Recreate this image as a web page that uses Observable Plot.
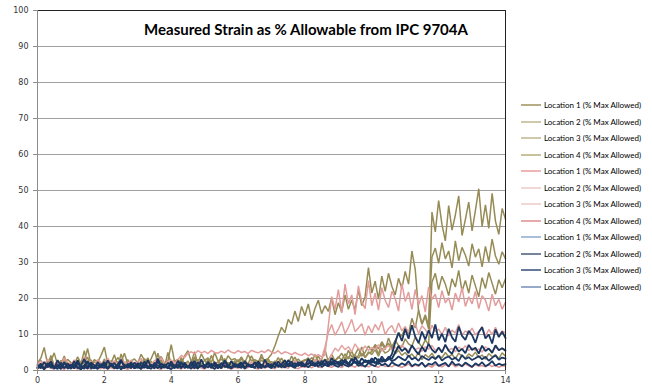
<!DOCTYPE html>
<html>
<head>
<meta charset="utf-8">
<script src="https://cdn.jsdelivr.net/npm/d3@7"></script>
<script src="https://cdn.jsdelivr.net/npm/@observablehq/plot@0.6"></script>
<style>
  html, body { margin: 0; padding: 0; background: #fff; }
  #wrap { position: relative; width: 652px; height: 387px; overflow: hidden; }
  #title { position: absolute; left: 0; width: 612px; top: 20px; text-align: center;
           font-family: Lato, "Open Sans", sans-serif; font-weight: bold; font-size: 15px; color: #000; white-space: nowrap; }
  #legend { position: absolute; left: 521px; top: 97px; font-family: Lato, "Open Sans", sans-serif; font-size: 8px; color: #000; }
  .row { position: relative; height: 16.5px; white-space: nowrap; }
  .sw { position: absolute; left: 0; top: 7px; width: 20px; height: 2px; }
  .lab { position: absolute; left: 23px; top: 2px; line-height: 12px; }
</style>
</head>
<body>
<div id="wrap">
  <div id="chart"></div>
  <div id="title"></div>
  <div id="legend"></div>
</div>
<script>
const titleText = "Measured Strain as % Allowable from IPC 9704A";
const xStep = 0.1;           // sample spacing along the x axis
const xTicks = [0, 2, 4, 6, 8, 10, 12, 14];
const yTicks = [0, 10, 20, 30, 40, 50, 60, 70, 80, 90, 100];
const seriesLabels = [
  "Location 1 (% Max Allowed)", "Location 2 (% Max Allowed)", "Location 3 (% Max Allowed)", "Location 4 (% Max Allowed)",
  "Location 1 (% Max Allowed)", "Location 2 (% Max Allowed)", "Location 3 (% Max Allowed)", "Location 4 (% Max Allowed)",
  "Location 1 (% Max Allowed)", "Location 2 (% Max Allowed)", "Location 3 (% Max Allowed)", "Location 4 (% Max Allowed)"
];

// Olive group
const olive1 = [
2.1,3.4,6.4,1.8,2.6,4.9,1.5,2.8,1.9,3.1,
2.2,1.6,3.8,2.0,2.5,6.1,1.7,3.0,2.3,4.2,
6.5,2.0,2.7,1.8,3.6,2.4,4.8,1.9,2.6,3.2,
2.1,4.5,2.8,1.7,3.3,5.4,2.2,3.9,2.0,2.7,
7.2,2.5,3.1,1.9,4.0,5.5,2.4,3.4,2.1,4.6,
2.8,3.5,2.2,5.0,2.6,3.2,2.0,4.1,2.9,3.3,
2.4,3.8,2.1,4.4,2.7,3.0,2.5,3.6,2.8,3.4,
4.5,6.8,9.5,12.0,10.5,14.2,12.8,16.5,13.6,17.8,
15.2,18.5,14.0,17.2,19.5,15.8,18.0,16.4,20.2,15.5,
18.8,16.2,21.0,17.0,19.6,16.8,22.4,18.0,20.5,28.6,
21.5,24.8,19.8,26.2,22.0,27.0,23.4,21.0,25.6,22.8,
27.5,24.0,33.2,28.0,16.5,12.8,15.0,11.5,44.0,38.5,
47.2,40.5,36.0,45.8,39.0,43.2,48.5,37.5,42.0,46.8,
38.8,44.5,50.5,40.0,46.0,39.5,49.2,41.5,37.8,45.0,
42.0];
const olive2 = [
0.8,1.5,2.2,1.0,4.2,1.3,2.0,0.9,3.5,1.6,
1.2,2.6,1.0,1.8,5.5,1.4,2.1,1.0,2.8,1.5,
1.1,3.0,1.6,2.2,1.0,4.6,1.7,1.2,2.4,1.3,
2.0,1.1,3.3,1.5,2.6,1.2,4.8,1.8,1.3,2.5,
1.4,2.9,1.0,3.6,1.7,1.3,2.3,5.2,1.6,2.0,
1.2,3.1,1.5,2.4,1.1,4.3,1.8,2.2,1.4,2.7,
1.6,3.4,1.3,2.0,1.5,2.8,1.9,4.5,2.2,1.7,
2.5,1.8,3.6,2.1,2.9,1.6,4.0,2.3,3.2,2.0,
2.8,3.5,2.2,4.4,2.6,3.0,5.8,2.4,3.3,2.7,
3.8,2.9,4.6,3.2,5.5,3.0,4.2,6.5,3.6,4.8,
5.2,6.8,4.5,7.5,5.8,9.0,6.6,8.2,10.5,9.5,
12.0,10.2,14.5,11.8,16.8,13.0,15.5,12.5,31.5,34.0,
29.8,35.5,31.0,33.2,28.5,36.0,30.5,34.2,32.0,29.0,
35.2,31.5,33.8,28.8,34.5,30.2,36.5,31.8,29.5,33.0,
31.0];
const olive3 = [
1.5,2.8,1.2,2.0,3.4,1.1,2.5,1.7,4.0,1.4,
2.2,1.0,2.9,1.6,2.1,3.7,1.3,2.4,1.8,1.2,
3.2,1.5,2.0,4.4,1.2,2.6,1.7,3.0,1.4,2.1,
1.1,2.7,1.9,3.5,1.3,2.2,1.6,2.9,1.0,5.0,
1.8,2.3,1.4,3.1,1.7,2.6,1.2,3.8,2.0,1.5,
2.9,1.6,4.2,1.9,2.4,1.4,3.3,1.7,2.5,2.0,
3.0,1.5,2.7,1.8,4.1,2.2,1.6,2.9,2.0,3.2,
1.8,2.6,2.1,3.4,1.9,2.8,2.3,3.7,2.0,2.5,
3.0,2.2,3.6,2.6,4.0,2.4,3.1,2.8,4.5,2.7,
3.5,4.8,3.0,5.6,3.8,4.4,6.2,4.0,5.0,6.8,
5.5,7.2,6.0,8.0,6.4,7.6,5.8,8.4,7.0,6.5,
8.8,7.4,6.8,9.2,7.8,6.5,8.5,7.2,24.5,27.0,
22.5,26.2,24.0,20.8,25.5,23.2,27.8,22.0,25.0,21.5,
26.5,23.5,20.5,25.8,22.8,27.2,24.2,21.2,25.2,23.0,
25.5];
const olive4 = [
1.0,1.8,0.7,2.4,1.2,0.8,1.9,1.1,2.7,0.9,
1.5,0.8,2.1,1.3,0.7,1.7,3.0,1.0,1.4,0.8,
2.0,1.2,0.9,1.6,2.5,1.0,1.3,0.7,1.9,1.1,
1.4,2.3,0.9,1.2,1.8,0.8,1.5,2.6,1.0,1.3,
0.9,1.7,1.2,2.2,0.8,1.4,1.9,1.1,3.1,1.0,
1.6,0.9,1.3,2.0,1.1,1.7,0.8,1.4,2.4,1.2,
1.0,1.8,1.3,0.9,2.1,1.4,1.1,1.7,1.2,2.6,
1.3,1.9,1.0,1.6,2.3,1.2,1.8,1.4,2.0,1.5,
1.8,2.4,1.6,2.9,1.9,2.2,1.7,3.3,2.1,2.6,
2.4,3.0,2.7,3.8,3.1,4.2,3.4,4.8,3.6,5.2,
4.4,5.8,4.0,6.2,4.8,5.4,6.8,4.6,5.6,4.2,
5.0,3.8,4.6,3.4,5.2,3.0,4.4,3.6,4.8,3.2,
4.2,3.5,5.0,3.8,4.5,3.2,4.8,4.0,3.4,4.6,
3.9,5.1,3.6,4.3,3.1,4.7,3.8,4.4,3.3,4.9,
4.0];

// Pink group
const pink1 = [
1.8,2.6,1.4,3.2,2.0,1.5,2.8,1.7,3.5,2.2,
1.6,2.9,2.1,1.4,3.8,1.9,2.5,1.3,3.0,2.2,
1.7,3.4,2.0,2.7,1.5,3.1,2.3,1.8,2.9,1.6,
2.4,3.3,1.9,2.6,1.5,2.8,2.2,3.6,1.8,2.5,
2.9,2.1,3.0,4.2,3.6,4.8,5.2,4.6,5.5,4.9,
5.3,4.7,5.6,5.0,4.8,5.4,4.9,5.7,5.1,4.8,
5.5,5.0,5.3,4.7,5.6,5.2,4.9,5.4,5.0,5.8,
5.1,4.8,5.5,4.6,5.2,4.9,4.4,5.0,4.5,4.2,
4.8,4.1,4.6,3.9,4.4,3.8,4.3,12.5,20.5,17.0,
22.5,16.0,24.0,18.5,21.0,15.5,23.5,19.0,17.2,25.0,
18.0,21.5,16.8,23.0,19.5,17.5,22.0,20.0,16.5,24.2,
19.2,21.8,17.0,22.5,18.2,20.8,16.2,23.2,19.8,21.2,
17.5,22.2,18.8,20.2,16.8,21.5,19.0,23.0,17.8,20.5,
18.5,22.0,17.2,20.8,19.5,16.5,21.2,18.0,19.8,17.0,
19.0];
const pink2 = [
1.2,0.8,1.9,1.0,1.5,0.7,2.2,1.1,0.9,1.6,
1.3,2.0,0.8,1.4,1.1,2.4,0.9,1.5,1.2,0.8,
1.8,1.0,1.3,2.1,0.9,1.4,1.0,1.7,1.2,2.3,
0.9,1.5,1.1,1.8,1.3,0.8,2.0,1.2,1.6,1.0,
1.4,2.2,1.1,1.7,1.3,1.9,1.0,1.5,2.4,1.2,
1.6,1.1,2.0,1.4,1.8,1.2,2.3,1.5,1.0,1.9,
1.3,2.1,1.6,1.2,2.5,1.4,1.8,1.1,2.2,1.5,
1.9,1.3,2.6,1.7,1.4,2.1,1.6,2.8,1.8,2.3,
1.9,2.6,2.0,3.0,2.4,3.4,6.5,10.5,12.8,9.8,
11.5,13.5,10.2,12.0,14.2,10.8,11.8,13.0,9.8,12.4,
10.5,12.8,11.2,13.6,10.0,11.6,12.5,10.4,13.2,11.0,
12.2,10.6,11.8,13.0,10.2,12.4,11.4,9.8,12.6,10.8,
11.5,10.0,12.0,9.6,11.2,10.4,12.8,9.8,11.0,10.2,
11.8,9.9,10.8,12.2,9.5,11.4,10.0,12.0,9.7,11.0,
10.4];
const pink3 = [
0.6,1.2,0.4,0.9,1.5,0.5,1.0,0.7,1.8,0.5,
0.9,0.6,1.3,0.4,1.1,0.8,0.5,1.6,0.7,1.0,
0.5,1.2,0.8,0.4,1.4,0.9,0.6,1.1,0.5,1.7,
0.8,0.6,1.0,0.5,1.3,0.7,1.9,0.6,0.9,0.5,
1.2,0.7,1.0,1.5,0.6,1.1,0.8,1.3,0.7,1.6,
0.9,1.2,0.6,1.4,1.0,0.8,1.7,1.1,0.7,1.3,
1.0,1.5,0.8,1.2,1.9,0.9,1.4,1.1,1.6,1.0,
1.3,2.0,1.2,1.5,1.0,1.8,1.4,2.2,1.3,1.7,
1.5,2.4,1.6,2.0,1.7,2.6,1.9,2.3,4.5,6.2,
5.4,7.0,5.8,6.6,5.2,7.4,6.0,5.5,6.8,5.6,
6.4,5.8,7.2,5.4,6.2,6.9,5.6,6.5,5.9,7.1,
6.0,5.5,6.7,5.8,6.3,5.3,6.6,5.9,7.0,5.6,
6.2,5.4,6.8,5.7,6.1,5.2,6.5,5.8,6.9,5.5,
6.3,5.6,6.0,5.1,6.6,5.9,5.4,6.4,5.7,6.1,
5.8];
const pink4 = [
0.5,0.9,0.3,1.2,0.6,0.4,1.0,0.7,0.3,1.4,
0.6,0.8,0.4,1.1,0.5,0.9,0.3,1.3,0.7,0.5,
1.0,0.4,0.8,0.6,1.5,0.5,0.7,0.3,1.1,0.6,
0.9,0.4,1.2,0.7,0.5,1.0,0.6,0.3,1.3,0.8,
0.5,1.0,0.7,0.4,1.4,0.6,0.9,0.5,1.1,0.7,
0.4,1.2,0.8,0.5,1.0,0.6,1.5,0.7,0.4,0.9,
0.6,1.1,0.5,0.8,1.3,0.7,0.4,1.0,0.6,1.2,
0.8,0.5,1.4,0.7,1.0,0.6,1.6,0.8,0.5,1.1,
0.9,1.3,0.7,1.5,1.0,0.8,1.7,1.1,0.9,1.4,
1.2,0.8,1.6,1.0,1.3,0.9,1.8,1.1,1.4,1.0,
1.5,1.2,0.9,1.7,1.1,1.4,1.0,1.6,1.2,0.9,
1.3,1.8,1.0,1.5,1.2,2.0,1.1,1.4,0.9,1.7,
1.3,1.0,1.6,1.2,1.9,1.0,1.5,1.1,1.8,1.3,
0.9,1.6,1.2,1.4,1.0,1.7,1.1,1.5,0.9,1.3,
1.2];

// Navy group
const navy1 = [
1.5,0.6,2.4,0.9,1.8,0.5,2.9,1.2,0.7,2.0,
1.0,2.6,0.6,1.4,3.2,0.8,1.9,0.5,2.3,1.1,
0.7,2.8,1.3,0.6,1.7,3.0,0.9,1.5,0.6,2.2,
1.2,0.7,2.5,1.0,1.6,0.5,3.3,1.1,0.8,2.1,
1.4,0.6,2.7,0.9,1.8,0.7,2.4,1.3,0.5,3.1,
1.0,1.9,0.7,2.3,1.2,0.6,2.8,1.5,0.8,2.0,
1.1,0.7,2.6,1.4,0.9,2.2,1.6,0.6,3.0,1.2,
1.8,0.8,2.5,1.3,1.0,2.9,1.5,0.9,2.3,1.7,
1.1,3.2,1.4,2.1,1.0,2.7,1.6,1.2,3.5,1.8,
2.4,1.3,3.0,1.9,1.5,3.7,2.2,1.6,2.8,2.0,
3.4,2.3,1.8,3.9,2.6,3.1,4.5,7.8,10.5,8.2,
11.5,8.8,12.6,9.4,7.6,10.8,8.6,11.2,9.0,12.8,
8.4,10.2,7.9,11.6,9.2,8.0,12.2,9.6,8.5,11.0,
9.8,7.7,10.6,12.0,8.9,10.0,7.5,11.4,9.3,10.8,
9.0];
const navy2 = [
0.8,1.9,0.5,1.4,2.5,0.7,1.2,0.4,2.1,1.0,
1.6,0.6,2.8,0.9,1.3,0.5,2.2,1.5,0.7,1.1,
2.4,0.6,1.8,1.0,0.5,2.6,1.2,0.8,1.7,0.6,
2.0,1.3,0.7,2.9,1.0,1.5,0.6,1.9,1.2,0.8,
2.5,1.0,1.6,0.6,2.2,0.9,1.4,2.7,0.7,1.3,
0.9,2.4,1.1,1.7,0.6,2.0,1.3,0.8,2.6,1.0,
1.5,2.3,0.8,1.8,1.1,0.7,2.5,1.4,1.0,1.9,
0.9,2.2,1.3,1.7,2.8,1.1,1.6,2.0,1.2,2.4,
1.5,1.9,2.6,1.3,2.2,1.7,3.0,1.5,2.4,2.0,
1.8,2.9,2.2,1.6,3.2,2.5,1.9,3.4,2.3,2.8,
2.1,3.6,2.6,3.0,2.4,3.8,3.2,5.0,6.8,5.4,
6.2,4.8,7.0,5.6,4.5,6.6,5.2,7.4,5.8,4.9,
6.4,5.0,7.2,5.5,4.6,6.8,5.3,6.0,4.8,7.1,
5.7,6.3,4.7,6.9,5.4,6.1,4.9,7.0,5.6,6.2,
5.5];
const navy3 = [
0.9,1.6,0.4,2.0,1.1,0.6,1.7,0.8,2.3,0.5,
1.3,0.7,1.9,1.0,0.5,2.4,1.2,0.7,1.5,0.9,
1.8,0.5,1.4,2.1,0.8,1.1,0.6,1.9,1.0,1.4,
0.7,2.2,1.2,0.6,1.6,1.0,2.5,0.8,1.3,0.6,
1.7,1.1,0.7,2.0,1.4,0.9,1.5,0.6,2.3,1.1,
1.6,0.8,1.9,1.2,0.7,2.1,1.0,1.5,0.8,1.8,
1.3,0.9,2.4,1.1,1.6,0.8,2.0,1.4,1.0,1.7,
1.2,2.2,1.5,0.9,1.9,1.3,2.5,1.1,1.6,2.0,
1.4,1.8,2.7,1.2,2.1,1.6,1.9,2.4,1.5,2.8,
1.7,2.2,2.6,1.9,3.0,2.1,2.5,1.8,2.9,2.3,
2.7,2.0,3.2,2.4,2.8,3.5,2.6,3.0,3.9,3.3,
2.8,4.2,3.1,3.6,2.7,4.0,3.4,2.9,3.8,3.2,
4.1,2.8,3.5,3.9,3.0,3.6,2.6,4.3,3.2,3.7,
2.9,3.4,4.0,3.1,3.8,2.7,3.5,4.2,3.0,3.6,
3.3];
const navy4 = [
0.6,1.4,0.3,1.9,0.8,1.1,0.4,2.2,0.7,1.3,
0.5,1.7,0.9,0.3,1.5,2.6,0.6,1.0,0.4,1.8,
1.2,0.5,2.0,0.8,1.4,0.3,1.6,1.0,2.3,0.6,
1.1,0.4,1.7,0.9,0.5,2.1,1.3,0.6,1.8,0.8,
0.4,1.5,1.0,2.4,0.7,1.2,0.5,1.9,0.9,1.4,
0.6,2.0,1.1,0.4,1.6,0.8,2.5,1.0,0.6,1.3,
0.9,1.8,0.5,1.4,1.1,2.2,0.7,1.6,0.9,1.2,
0.6,2.0,1.0,1.5,0.8,1.9,1.2,0.7,2.3,1.1,
1.5,0.9,1.8,1.3,2.6,1.0,1.6,1.2,2.0,1.4,
1.0,2.2,1.5,1.1,1.8,2.4,1.3,1.7,1.0,2.1,
1.6,1.2,2.5,1.4,1.9,1.1,2.3,1.7,1.3,2.0,
1.5,2.6,1.2,1.8,1.4,2.2,1.0,1.9,1.6,2.4,
1.3,1.7,2.1,1.1,2.5,1.5,1.8,1.2,2.2,1.6,
1.0,2.0,1.4,2.3,1.2,1.7,2.6,1.3,1.9,1.5,
1.8];

const seriesValues = [olive1, olive2, olive3, olive4, pink1, pink2, pink3, pink4, navy1, navy2, navy3, navy4];
const lineColors = ["#968B55", "#978C57", "#958A54", "#9A8F5C",
                    "#E39C9B", "#E2A09F", "#E4A5A4", "#DE9594",
                    "#1C3862", "#17345D", "#1E3B66", "#1A3963"];
const legendColors = ["#B7AD84", "#CFC8AA", "#CFC8AA", "#C9C09C",
                      "#EDB6B6", "#F3D6D6", "#F3D6D6", "#E6AAAA",
                      "#A9BEDA", "#75839B", "#68789A", "#97AACA"];

const marks = [
  Plot.gridY(yTicks.filter(v => v > 0 && v < 100), {stroke: "#A0A0A0", strokeOpacity: 1, strokeWidth: 1})
];
seriesValues.forEach((vals, k) => {
  marks.push(Plot.line(vals, {x: (d, i) => i * xStep, y: d => d, stroke: lineColors[k], strokeWidth: k >= 8 ? 1.8 : 1.5, strokeLinejoin: "miter"}));
});
marks.push(
  Plot.ruleY([100], {stroke: "#222", strokeWidth: 1}),
  Plot.ruleX([14], {stroke: "#222", strokeWidth: 1}),
  Plot.ruleX([0], {stroke: "#8C8C8C", strokeWidth: 1}),
  Plot.ruleY([0], {stroke: "#8C8C8C", strokeWidth: 1}),
  Plot.axisX({ticks: xTicks, tickSize: 4, tickPadding: 3, tickFormat: d3.format("d"), stroke: "#8C8C8C", fill: "#333", label: null}),
  Plot.axisY({ticks: yTicks, tickSize: 4, tickPadding: 5, tickFormat: d3.format("d"), stroke: "#8C8C8C", fill: "#333", label: null})
);

const chart = Plot.plot({
  width: 652,
  height: 387,
  marginLeft: 37,
  marginRight: 147,
  marginTop: 10,
  marginBottom: 17,
  x: {domain: [0, 14]},
  y: {domain: [0, 100]},
  style: {fontFamily: "'DejaVu Sans', Verdana, sans-serif", fontSize: "8px", background: "#fff"},
  marks
});
document.getElementById("chart").appendChild(chart);
document.getElementById("title").textContent = titleText;

const legend = document.getElementById("legend");
seriesLabels.forEach((lab, k) => {
  const row = document.createElement("div");
  row.className = "row";
  const sw = document.createElement("div");
  sw.className = "sw";
  sw.style.background = legendColors[k];
  const t = document.createElement("span");
  t.className = "lab";
  t.textContent = lab;
  row.appendChild(sw);
  row.appendChild(t);
  legend.appendChild(row);
});
</script>
</body>
</html>
